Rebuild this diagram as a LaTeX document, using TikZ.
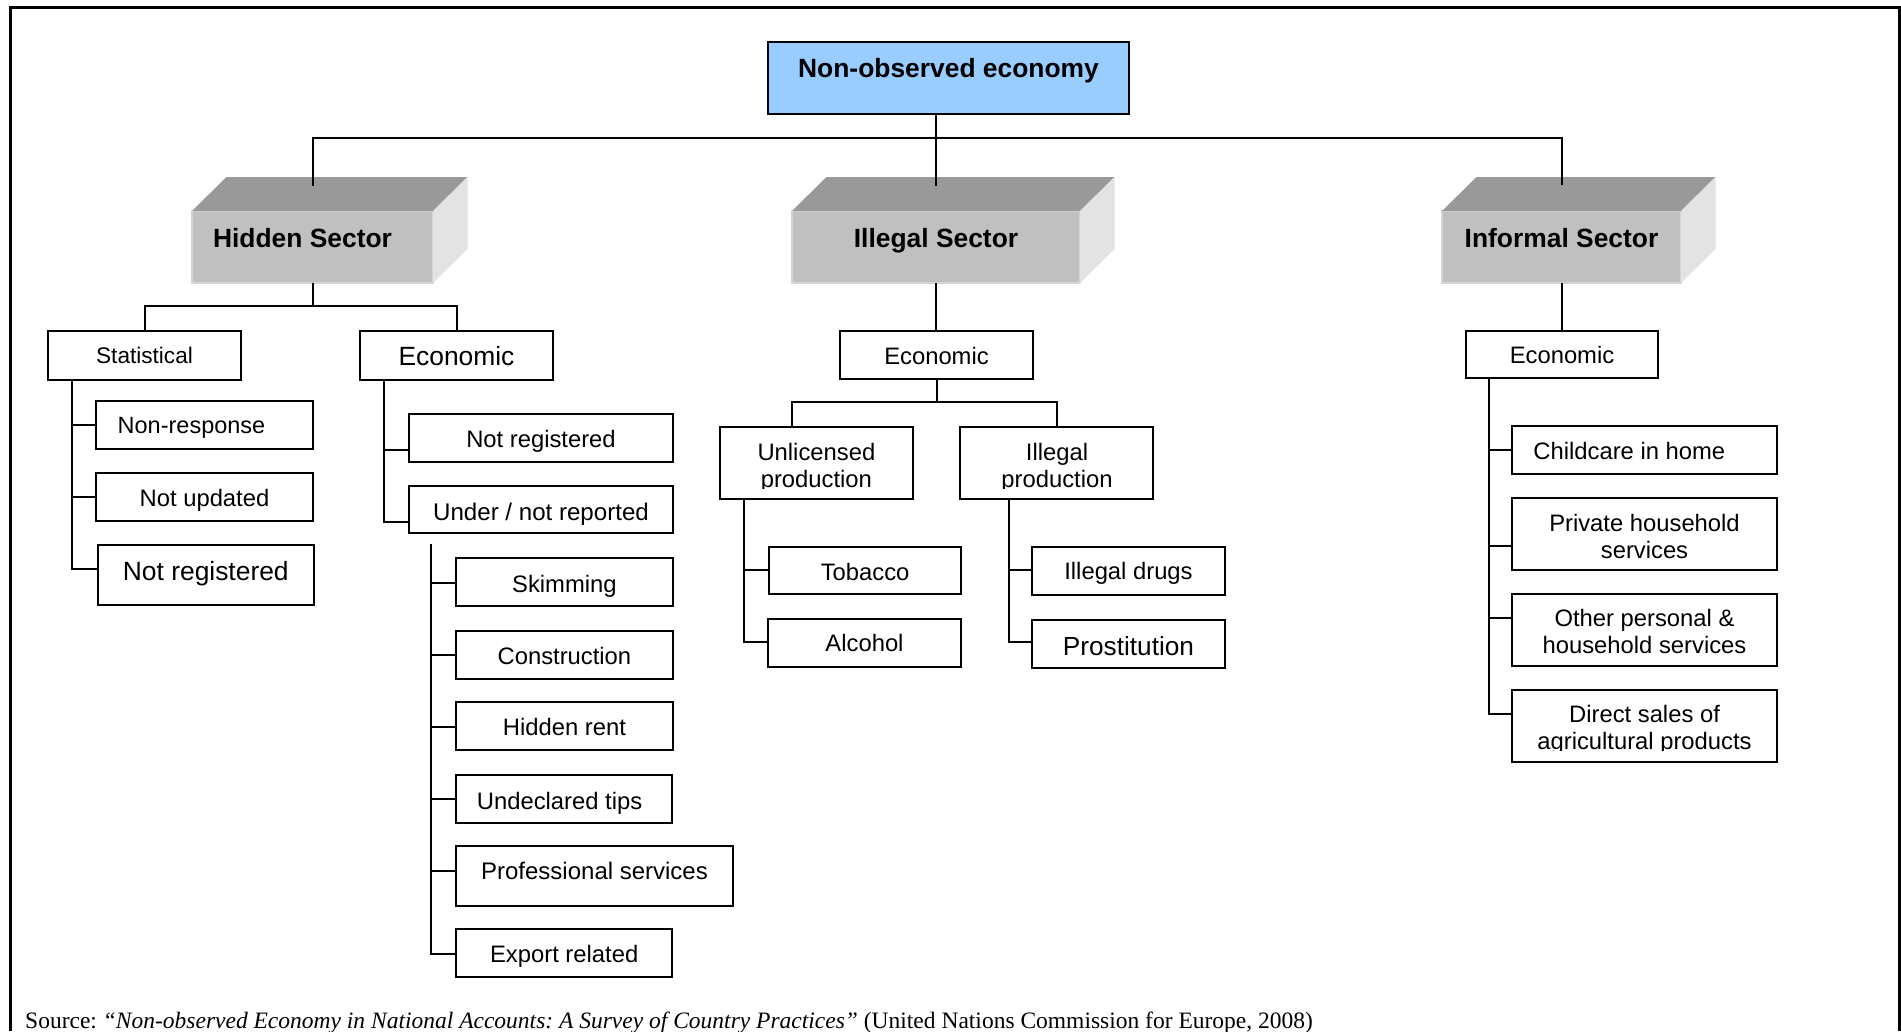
\documentclass[tikz,border=0pt]{standalone}
\usepackage{fontspec}
\setmainfont{Liberation Sans}
\newfontfamily\srcfont{Liberation Serif}
\usetikzlibrary{calc}

\definecolor{noeblue}{HTML}{99CCFF}
\definecolor{slabfront}{HTML}{C0C0C0}
\definecolor{slabtop}{HTML}{999999}
\definecolor{slabside}{HTML}{E3E3E3}
\definecolor{slabedge}{HTML}{D4D4D4}

% two centred lines whose reference point is the first baseline
\newcommand\twolines[2]{\begin{tabular}[t]{@{}c@{}}#1\\#2\end{tabular}}

% top and right faces of a sector block, given its front node
\newcommand\slabfaces[1]{%
  \fill[slabtop] (#1.north west) -- ++(34.5,-34) -- ($(#1.north east)+(34.5,-34)$) -- (#1.north east) -- cycle;
  \fill[slabside] (#1.north east) -- ++(34.5,-34) -- ++(0,72) -- (#1.south east) -- cycle;}

% horizontal tick from a spine to a box, and the final elbow
\newcommand\twig[3]{%
  \path ($(#2.west)+(0,#3)$) coordinate (brpt);
  \draw[conn] (#1 |- brpt) -- (brpt);}
\newcommand\lasttwig[3]{%
  \path ($(#2.west)+(0,#3)$) coordinate (brpt);
  \draw[conn] (#1) |- (brpt);}

\tikzset{
  conn/.style={line width=2pt, draw=black},
  box/.style={draw=black, line width=2pt, fill=white, inner sep=0pt, outer sep=0pt,
    font=\fontsize{23.8}{27.2}\selectfont},
  txt/.style={inner sep=0pt, outer sep=0pt, font=\fontsize{23.8}{27.2}\selectfont},
  sz/.style={font=\fontsize{#1}{27.2}\selectfont},
  title/.style={font=\bfseries\fontsize{26.4}{30}\selectfont},
  slab/.style={fill=slabfront, draw=slabedge, line width=1.5pt, inner sep=0pt, outer sep=0pt,
    minimum height=72pt, title},
  tb/.code={\pgfmathsetmacro\tbh{20+(#1)}\pgfmathsetmacro\tbd{20-(#1)}%
    \edef\tbtmp{\noexpand\tikzset{text height=\tbh pt,text depth=\tbd pt}}\tbtmp},
}

\begin{document}
\begin{tikzpicture}[x=1pt,y=-1pt]
\useasboundingbox (0,0) rectangle (1901,1031);
\fill[white] (0,0) rectangle (1901,1031);

% page frame, open at the bottom
\draw[line width=3pt] (10,1031) -- (10,7) -- (1899,7) -- (1899,1031);

% root
\node[box, fill=noeblue, minimum width=361, minimum height=72, title, tb=-0.7] (noe) at (948.5,78) {Non-observed economy};

% sector blocks
\node[slab, minimum width=241, tb=0] (hidden) at (312.5,247) {Hidden Sector\hspace*{20pt}};
\node[slab, minimum width=288, tb=0] (illegal) at (936,247) {Illegal Sector};
\node[slab, minimum width=239, tb=0] (informal) at (1561.5,247) {Informal Sector};
\slabfaces{hidden}
\slabfaces{illegal}
\slabfaces{informal}

\coordinate (hidtop) at ($(hidden.north)+(0,-25)$);
\coordinate (illtop) at ($(illegal.north)+(0,-25)$);
\coordinate (inftop) at ($(informal.north)+(0,-26)$);
\coordinate (bus) at ($(noe.south -| illtop)+(0,24)$);
\draw[conn] (noe.south -| illtop) -- (illtop);
\draw[conn] (hidtop) |- (bus) -| (inftop);

% ---------------- hidden sector ----------------
\node[box, minimum width=193, minimum height=49, sz=22.6, tb=7.8] (stat) at (144.5,355.5) {Statistical};
\node[box, minimum width=193, minimum height=49, sz=26.4, tb=10.2] (hecon) at (456.5,355.5) {Economic};
\draw[conn] (hidden.south) -- ++(0,23) coordinate (hj);
\draw[conn] (hj) -| (stat.north);
\draw[conn] (hj) -| (hecon.north);

\node[box, minimum width=216.6, minimum height=48.2, sz=23.5, tb=9] (nresp) at (204.3,424.9) {Non-response\hspace*{25.6pt}};
\node[box, minimum width=217, minimum height=48, tb=9.6] (nupd) at (204.5,497) {Not updated};
\node[box, minimum width=215.6, minimum height=60.6, sz=26.4, tb=5.4] (nreg1) at (205.8,575.1) {Not registered};
\coordinate (sspine) at ($(stat.south west)+(24,0)$);
\twig{sspine}{nresp}{0}
\twig{sspine}{nupd}{0}
\lasttwig{sspine}{nreg1}{-6}

\node[box, minimum width=264.7, minimum height=48, tb=9.2] (nreg2) at (541,438) {Not registered};
\node[box, minimum width=264.7, minimum height=47.1, sz=24.1, tb=10.8] (under) at (541,509.5) {Under / not reported};
\coordinate (hespine) at ($(hecon.south west)+(24,0)$);
\twig{hespine}{nreg2}{11.7}
\lasttwig{hespine}{under}{12.5}

\node[box, minimum width=216.8, minimum height=48, tb=10] (skim) at (564.4,582) {Skimming};
\node[box, minimum width=216.8, minimum height=48.3, tb=9.9] (constr) at (564.4,654.9) {Construction};
\node[box, minimum width=216.8, minimum height=48.2, tb=9.9] (hrent) at (564.4,725.8) {Hidden rent};
\node[box, minimum width=215.8, minimum height=48.5, tb=10.6] (tips) at (563.9,799) {Undeclared tips\hspace*{8.6pt}};
\node[box, minimum width=277, minimum height=60.3, sz=24, tb=3.5] (prof) at (594.5,875.9) {Professional services};
\node[box, minimum width=216.3, minimum height=47.7, tb=9.7] (export) at (564.2,952.7) {Export related};
\coordinate (uspine) at ($(under.south west)+(22.8,11.4)$);
\twig{uspine}{skim}{1}
\twig{uspine}{constr}{0}
\twig{uspine}{hrent}{0.8}
\twig{uspine}{tips}{0}
\twig{uspine}{prof}{-4.9}
\lasttwig{uspine}{export}{1}

% ---------------- illegal sector ----------------
\node[box, minimum width=193, minimum height=48, tb=9] (iecon) at (936.5,355) {Economic};
\draw[conn] (illegal.south) -- (illegal.south |- iecon.north);

\node[box, minimum width=192.8, minimum height=72.3] (unl) at (816.4,462.8) {};
\begin{scope}
  \clip (unl.north west) rectangle ($(unl.east)+(0,25.5)$);
  \node[txt, anchor=base] (unltext) at ($(unl.center)+(0,-2.8)$) {\twolines{Unlicensed}{production}};
\end{scope}
\node[box, minimum width=193, minimum height=72.3] (ilp) at (1056.5,462.8) {};
\begin{scope}
  \clip (ilp.north west) rectangle ($(ilp.east)+(0,25.5)$);
  \node[txt, anchor=base] (ilptext) at ($(ilp.center)+(0.5,-2.8)$) {\twolines{Illegal}{production}};
\end{scope}
\draw[conn] (iecon.south) -- ++(0,22.7) coordinate (ij);
\draw[conn] (ij) -| ($(unl.north west)+(71.8,0)$);
\draw[conn] (ij) -| (ilp.north);

\node[box, minimum width=192.5, minimum height=47.3, tb=9.7] (tob) at (865.1,570.3) {Tobacco};
\node[box, minimum width=193, minimum height=48.3, tb=8.9] (alc) at (864.5,642.8) {Alcohol};
\coordinate (unspine) at ($(unl.south west)+(24.4,0)$);
\twig{unspine}{tob}{0}
\lasttwig{unspine}{alc}{-0.8}

\node[box, minimum width=193, minimum height=48.3, tb=8.5] (drugs) at (1128.5,570.8) {Illegal drugs};
\node[box, minimum width=193, minimum height=48, sz=26.2, tb=11.3] (prost) at (1128.5,643.7) {Prostitution};
\coordinate (ilspine) at ($(ilp.south west)+(48.5,0)$);
\twig{ilspine}{drugs}{-0.8}
\lasttwig{ilspine}{prost}{-1.7}

% ---------------- informal sector ----------------
\node[box, minimum width=192.8, minimum height=47, tb=8.8] (ifecon) at (1562,354.5) {Economic};
\draw[conn] (informal.south) -- (informal.south |- ifecon.north);

\node[box, minimum width=265, minimum height=48.3, tb=9.5] (child) at (1644.5,449.8) {Childcare in home\hspace*{30.4pt}};
\node[box, minimum width=265, minimum height=71.7, tb=-2.5] (priv) at (1644.5,534.2) {\twolines{Private household}{services}};
\node[box, minimum width=265, minimum height=72.3, tb=-3.1] (other) at (1644.5,629.8) {\twolines{Other personal \&}{household services}};
\node[box, minimum width=265, minimum height=72.3] (direct) at (1644.5,725.8) {};
\begin{scope}
  \clip (direct.north west) rectangle ($(direct.east)+(0,24.9)$);
  \node[txt, anchor=base] (directtext) at ($(direct.center)+(0,-3.5)$) {\twolines{Direct sales of}{agricultural products}};
\end{scope}
\coordinate (ifspine) at ($(ifecon.south west)+(23.4,0)$);
\twig{ifspine}{child}{0}
\twig{ifspine}{priv}{11.5}
\twig{ifspine}{other}{-11.8}
\lasttwig{ifspine}{direct}{-11.5}

% source line
\node[anchor=base west, inner sep=0pt, font=\srcfont\fontsize{23.5}{26}\selectfont\frenchspacing] (src) at (25,1028)
  {Source: \textit{“Non-observed Economy in National Accounts: A Survey of Country Practices”} (United Nations Commission for Europe, 2008)};
\end{tikzpicture}
\end{document}
